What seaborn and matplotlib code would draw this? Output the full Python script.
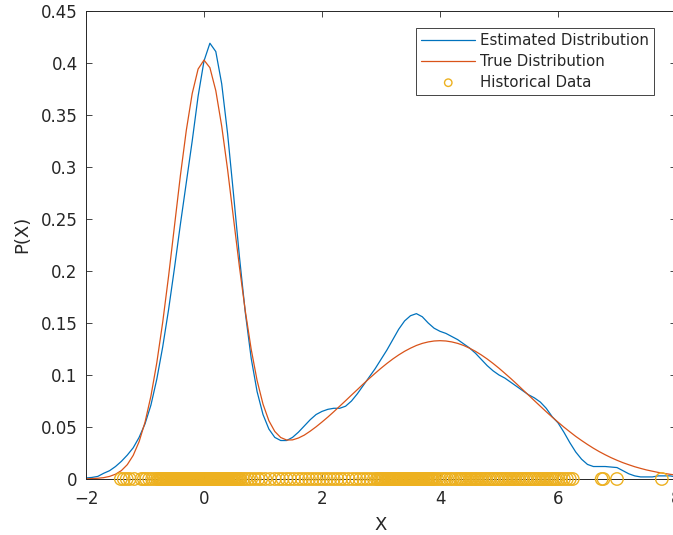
import matplotlib
matplotlib.use("Agg")
import matplotlib.pyplot as plt
import seaborn as sns
import numpy as np
import pandas as pd

# ---------------- data ----------------
x_grid = [-2.0, -1.9, -1.8, -1.7, -1.6, -1.5, -1.4, -1.3, -1.2, -1.1,
          -1.0, -0.9, -0.8, -0.7, -0.6, -0.5, -0.4, -0.3, -0.2, -0.1,
          0.0, 0.1, 0.2, 0.3, 0.4, 0.5, 0.6, 0.7, 0.8, 0.9,
          1.0, 1.1, 1.2, 1.3, 1.4, 1.5, 1.6, 1.7, 1.8, 1.9,
          2.0, 2.1, 2.2, 2.3, 2.4, 2.5, 2.6, 2.7, 2.8, 2.9,
          3.0, 3.1, 3.2, 3.3, 3.4, 3.5, 3.6, 3.7, 3.8, 3.9,
          4.0, 4.1, 4.2, 4.3, 4.4, 4.5, 4.6, 4.7, 4.8, 4.9,
          5.0, 5.1, 5.2, 5.3, 5.4, 5.5, 5.6, 5.7, 5.8, 5.9,
          6.0, 6.1, 6.2, 6.3, 6.4, 6.5, 6.6, 6.7, 6.8, 6.9,
          7.0, 7.1, 7.2, 7.3, 7.4, 7.5, 7.6, 7.7, 7.8, 7.9, 8.0]

estimated_pdf = [0.001, 0.0015, 0.0025, 0.0055, 0.008, 0.012, 0.017, 0.023, 0.030, 0.040,
                 0.053, 0.071, 0.096, 0.127, 0.163, 0.203, 0.245, 0.285, 0.325, 0.368,
                 0.402, 0.419, 0.411, 0.380, 0.332, 0.274, 0.214, 0.160, 0.116, 0.084,
                 0.062, 0.048, 0.040, 0.037, 0.037, 0.040, 0.045, 0.051, 0.057, 0.062,
                 0.065, 0.067, 0.068, 0.068, 0.070, 0.075, 0.082, 0.090, 0.098, 0.106,
                 0.115, 0.124, 0.134, 0.144, 0.152, 0.157, 0.159, 0.156, 0.150, 0.145,
                 0.142, 0.140, 0.137, 0.134, 0.130, 0.126, 0.121, 0.115, 0.109, 0.104,
                 0.100, 0.097, 0.093, 0.089, 0.085, 0.081, 0.078, 0.074, 0.068, 0.060,
                 0.054, 0.045, 0.035, 0.026, 0.019, 0.014, 0.012, 0.012, 0.012, 0.0115,
                 0.011, 0.008, 0.005, 0.003, 0.002, 0.002, 0.002, 0.003, 0.003, 0.003, 0.002]

true_pdf = [0.0002, 0.0004, 0.0007, 0.0013, 0.0025, 0.0046, 0.0081, 0.0138, 0.0227, 0.0359,
            0.0545, 0.0796, 0.1118, 0.1507, 0.1952, 0.2435, 0.2918, 0.3352, 0.3706, 0.3942,
            0.4028, 0.3955, 0.3734, 0.3393, 0.2975, 0.2507, 0.2042, 0.1615, 0.1247, 0.0947,
            0.0720, 0.0560, 0.0457, 0.0399, 0.0375, 0.0376, 0.0394, 0.0422, 0.0460, 0.0502,
            0.0548, 0.0596, 0.0647, 0.0700, 0.0753, 0.0807, 0.0860, 0.0914, 0.0966, 0.1016,
            0.1065, 0.1111, 0.1154, 0.1193, 0.1228, 0.1258, 0.1284, 0.1304, 0.1318, 0.1327,
            0.1330, 0.1327, 0.1318, 0.1304, 0.1284, 0.1258, 0.1228, 0.1193, 0.1154, 0.1111,
            0.1065, 0.1016, 0.0966, 0.0914, 0.0860, 0.0807, 0.0753, 0.0700, 0.0647, 0.0596,
            0.0547, 0.0499, 0.0454, 0.0410, 0.0370, 0.0332, 0.0296, 0.0263, 0.0233, 0.0205,
            0.0180, 0.0157, 0.0137, 0.0118, 0.0102, 0.0087, 0.0075, 0.0063, 0.0054, 0.0045, 0.0038]

historical_x = [
    # sparse left tail
    -1.41, -1.36, -1.31, -1.26, -1.18, -1.06, -1.02, -0.98, -0.93, -0.88, -0.83, -0.79,
    # dense first mode
    -0.76, -0.74, -0.72, -0.71, -0.69, -0.67, -0.65, -0.63, -0.62, -0.60, -0.58, -0.56,
    -0.54, -0.53, -0.51, -0.49, -0.47, -0.45, -0.44, -0.42, -0.40, -0.38, -0.37, -0.35,
    -0.33, -0.31, -0.29, -0.28, -0.26, -0.24, -0.22, -0.21, -0.19, -0.17, -0.15, -0.14,
    -0.12, -0.10, -0.08, -0.07, -0.05, -0.03, -0.02, 0.00, 0.02, 0.03, 0.05, 0.07,
    0.08, 0.10, 0.12, 0.13, 0.15, 0.17, 0.19, 0.20, 0.22, 0.24, 0.26, 0.27,
    0.29, 0.31, 0.33, 0.35, 0.36, 0.38, 0.40, 0.42, 0.44, 0.46, 0.48, 0.50,
    0.52, 0.54, 0.56, 0.58, 0.60, 0.62,
    0.66, 0.70, 0.75, 0.80, 0.86, 0.92, 0.97,
    # sparse valley
    1.04, 1.12, 1.20, 1.27, 1.33, 1.40, 1.46, 1.53, 1.60, 1.66, 1.72, 1.78,
    1.84, 1.90, 1.96, 2.02, 2.08, 2.14, 2.20, 2.26, 2.32, 2.38, 2.45, 2.52,
    2.58, 2.64, 2.70, 2.76, 2.82, 2.88,
    # dense second mode
    2.93, 2.95, 2.98, 3.00, 3.02, 3.04, 3.07, 3.09, 3.11, 3.13, 3.15, 3.18,
    3.20, 3.22, 3.24, 3.26, 3.29, 3.31, 3.33, 3.35, 3.37, 3.40, 3.42, 3.44,
    3.46, 3.48, 3.50, 3.52, 3.54, 3.56, 3.58, 3.60, 3.62, 3.64, 3.66, 3.68,
    3.70, 3.72, 3.75, 3.77, 3.79, 3.81, 3.84, 3.86, 3.88,
    3.91, 3.95, 3.99, 4.04, 4.08, 4.12, 4.17, 4.21, 4.26, 4.30,
    # right shoulder
    4.34, 4.37, 4.41, 4.44, 4.47, 4.51, 4.54, 4.58, 4.61, 4.64, 4.68, 4.71,
    4.75, 4.78, 4.82, 4.85, 4.89, 4.92, 4.96, 4.99, 5.03, 5.06, 5.10, 5.13,
    5.17, 5.20, 5.24, 5.27, 5.31, 5.34, 5.38, 5.41, 5.45, 5.48, 5.52, 5.55,
    5.59, 5.62, 5.66, 5.69, 5.73, 5.76, 5.80, 5.83, 5.87, 5.90, 5.94, 5.97,
    6.01, 6.05, 6.10, 6.15, 6.20, 6.25,
    # right tail
    6.74, 6.77, 7.00, 7.76]
historical_y = [0.0] * len(historical_x)

x_ticks = [-2, 0, 2, 4, 6, 8]
y_ticks = [0, 0.05, 0.1, 0.15, 0.2, 0.25, 0.3, 0.35, 0.4, 0.45]
y_tick_labels = ["0", "0.05", "0.1", "0.15", "0.2", "0.25", "0.3", "0.35", "0.4", "0.45"]

# ---------------- styling ----------------
sns.set_style("white")
plt.rcParams["font.family"] = ["DejaVu Sans"]
DARK = "#262626"
BLUE = "#0072BD"
ORANGE = "#D95319"
YELLOW = "#EDB120"

fig = plt.figure(figsize=(6.73, 5.35), dpi=100)
ax = fig.add_axes([86 / 673, 56 / 535, 590 / 673, 468 / 535])

df = pd.DataFrame({"x": x_grid, "est": estimated_pdf, "true": true_pdf})
sns.lineplot(data=df, x="x", y="est", ax=ax, color=BLUE, linewidth=0.9,
             label="Estimated Distribution", estimator=None, sort=False)
sns.lineplot(data=df, x="x", y="true", ax=ax, color=ORANGE, linewidth=0.9,
             label="True Distribution", estimator=None, sort=False)
sns.scatterplot(x=historical_x, y=historical_y, ax=ax, marker="o", s=80,
                facecolors="none", edgecolors=YELLOW, linewidths=1.0,
                label="Historical Data", clip_on=False, zorder=3)

ax.set_xlim(-2, 8)
ax.set_ylim(0, 0.45)
ax.set_xticks(x_ticks)
ax.set_yticks(y_ticks)
ax.set_yticklabels(y_tick_labels)

for sp in ax.spines.values():
    sp.set_visible(True)
    sp.set_color(DARK)
    sp.set_linewidth(0.7)

ax.tick_params(axis="both", which="both", direction="in", length=4, width=0.6,
               color=DARK, labelcolor=DARK, labelsize=12,
               top=True, right=True, bottom=True, left=True)
ax.tick_params(axis="x", pad=8)
ax.tick_params(axis="y", pad=6)

ax.set_xlabel("X", fontsize=13, color=DARK)
ax.set_ylabel("P(X)", fontsize=13, color=DARK)
ax.xaxis.set_label_coords(0.5, -0.08)
ax.yaxis.set_label_coords(-0.092, 0.522)

handles, labels = ax.get_legend_handles_labels()
leg = ax.legend(handles, labels, loc="upper right",
                bbox_to_anchor=((654 - 86) / 590, (479 - 28) / 468),
                borderaxespad=0, fontsize=10.8, frameon=True, fancybox=False,
                framealpha=1, edgecolor=DARK, handlelength=3.6,
                handletextpad=0.3, borderpad=0.35, labelspacing=0.38,
                markerscale=0.6)
leg.get_frame().set_linewidth(0.6)
for t in leg.get_texts():
    t.set_color(DARK)

fig.savefig("out.png", dpi=100)
